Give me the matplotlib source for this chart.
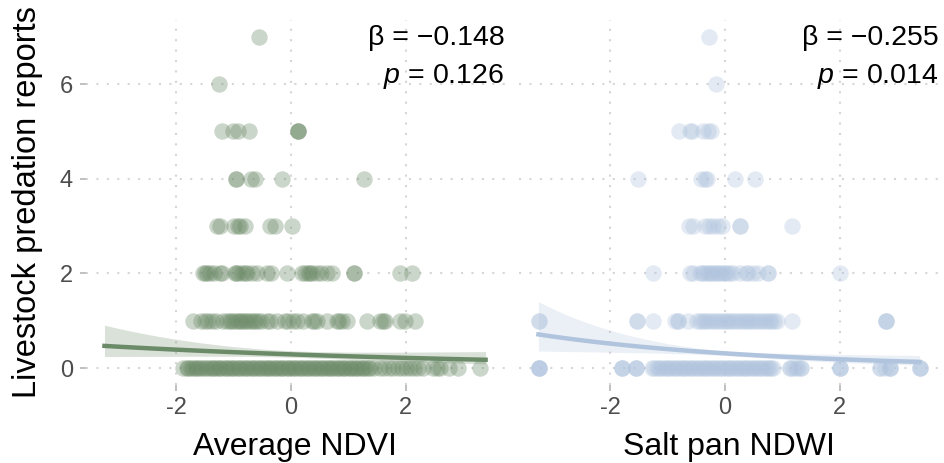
import numpy as np
import matplotlib.pyplot as plt

plt.rcParams['font.family'] = ['Liberation Sans', 'DejaVu Sans']
plt.rcParams['mathtext.fontset'] = 'custom'
plt.rcParams['mathtext.it'] = 'Liberation Sans:italic'
plt.rcParams['mathtext.rm'] = 'Liberation Sans'

# standardised average NDVI of each village, grouped by number of predation reports
ndvi_0 = [-1.88, -1.82, -1.79, -1.75, -1.71, -1.66, -1.63, -1.58, -1.55, -1.50, -1.47, -1.42,
          -1.38, -1.35, -1.30, -1.26, -1.23, -1.18, -1.14, -1.11, -1.06, -1.02, -0.99, -0.94,
          -0.90, -0.87, -0.82, -0.78, -0.75, -0.70, -0.66, -0.63, -0.58, -0.54, -0.51, -0.46,
          -0.42, -0.39, -0.34, -0.30, -0.27, -0.22, -0.18, -0.15, -0.10, -0.06, -0.03, 0.02,
          0.06, 0.09, 0.14, 0.18, 0.21, 0.26, 0.30, 0.33, 0.38, 0.42, 0.45, 0.50, 0.54, 0.57,
          0.62, 0.66, 0.69, 0.74, 0.78, 0.81, 0.86, 0.90, 0.93, 0.98, 1.02, 1.05, 1.10, 1.14,
          1.17, 1.22, 1.26, 1.29, 1.34, 1.38, 1.45, 1.55, 1.62, 1.70, 1.78, 1.86, 1.93, 2.00,
          2.08, 2.15, 2.22, 2.30, 2.47, 2.55, 2.60, 2.75, 2.91, 3.29]
ndvi_1 = [-1.70, -1.56, -1.50, -1.44, -1.38, -1.30, -1.18, -1.12, -1.06, -1.02, -0.98, -0.93,
          -0.89, -0.85, -0.80, -0.77, -0.72, -0.66, -0.62, -0.57, -0.52, -0.42, -0.36, -0.25,
          -0.10, -0.05, 0.04, 0.10, 0.21, 0.36, 0.40, 0.45, 0.62, 0.80, 0.84, 0.88, 0.97, 1.32,
          1.55, 1.61, 1.63, 1.90, 1.99, 2.16]
ndvi_2 = [-1.54, -1.50, -1.47, -1.41, -1.35, -1.24, -1.20, -0.98, -0.95, -0.92, -0.86, -0.80,
          -0.77, -0.68, -0.59, -0.42, -0.34, -0.07, 0.19, 0.24, 0.30, 0.33, 0.36, 0.45, 0.53,
          0.62, 0.71, 1.10, 1.10, 1.90, 2.10]
ndvi_3 = [-1.29, -1.24, -0.99, -0.92, -0.88, -0.80, -0.37, -0.28, 0.01]
ndvi_4 = [-0.96, -0.96, -0.70, -0.63, -0.16, 1.27]
ndvi_5 = [-1.20, -1.01, -0.93, -0.73, 0.12, 0.12, 0.12]
ndvi_6 = [-1.25]
ndvi_7 = [-0.56]

# standardised NDWI of the nearest salt pan
ndwi_0 = [-3.24, -3.24, -3.24, -3.24, -1.80, -1.80, -1.80, -1.55, -1.55, -1.55,
          -1.27, -1.23, -1.19, -1.15, -1.11, -1.07, -1.03, -0.99, -0.95, -0.91, -0.87, -0.83,
          -0.79, -0.75, -0.71, -0.67, -0.63, -0.59, -0.55, -0.51, -0.47, -0.43, -0.39, -0.35,
          -0.31, -0.27, -0.23, -0.19, -0.15, -0.11, -0.07, -0.03, 0.01, 0.05, 0.09, 0.13,
          0.17, 0.21, 0.25, 0.29, 0.33, 0.37, 0.41, 0.45, 0.49, 0.53, 0.57, 0.61, 0.65, 0.69,
          0.73, 0.77, 0.80, 0.84, 1.13, 1.13, 1.18, 1.23, 1.28, 1.33, 1.33, 2.00, 2.00, 2.00,
          2.70, 2.70, 2.78, 2.87, 2.87, 2.87, 3.39, 3.39, 3.39]
ndwi_1 = [-3.24, -3.24, -1.54, -1.54, -1.26, -0.87, -0.81, -0.81, -0.64, -0.49, -0.44, -0.39,
          -0.34, -0.29, -0.24, -0.19, -0.14, -0.09, -0.04, 0.01, 0.06, 0.11, 0.16, 0.21, 0.26,
          0.31, 0.36, 0.41, 0.46, 0.51, 0.56, 0.61, 0.66, 0.71, 0.76, 0.81, 0.86, 0.90, 1.16,
          2.80, 2.80, 2.80]
ndwi_2 = [-1.26, -0.61, -0.55, -0.44, -0.40, -0.36, -0.32, -0.28, -0.24, -0.20, -0.16, -0.12,
          -0.08, -0.04, 0.00, 0.04, 0.08, 0.14, 0.26, 0.37, 0.40, 0.49, 0.58, 0.75, 0.75, 2.00]
ndwi_3 = [-0.62, -0.55, -0.35, -0.27, -0.20, -0.12, -0.06, 0.26, 0.26, 1.16]
ndwi_4 = [-1.51, -0.41, -0.35, -0.31, 0.17, 0.53]
ndwi_5 = [-0.80, -0.61, -0.57, -0.38, -0.30, -0.25]
ndwi_6 = [-0.15]
ndwi_7 = [-0.27]

# Poisson GLM estimates (log link): intercept, slope, standard errors
ndvi_coef = (-1.24, -0.148)
ndvi_se = (0.12, 0.097)
ndvi_p = 0.126
ndwi_coef = (-1.17, -0.255)
ndwi_se = (0.08, 0.104)
ndwi_p = 0.014
fit_range = (-3.25, 3.39)

green = '#6b8a67'
blue = '#b0c4de'


def stack(levels):
    xs, ys = [], []
    for count, vals in enumerate(levels):
        xs += vals
        ys += [count] * len(vals)
    return np.array(xs), np.array(ys)


panels = [
    ('Average NDVI', [ndvi_0, ndvi_1, ndvi_2, ndvi_3, ndvi_4, ndvi_5, ndvi_6, ndvi_7],
     ndvi_coef, ndvi_se, ndvi_p, green),
    ('Salt pan NDWI', [ndwi_0, ndwi_1, ndwi_2, ndwi_3, ndwi_4, ndwi_5, ndwi_6, ndwi_7],
     ndwi_coef, ndwi_se, ndwi_p, blue),
]

fig = plt.figure(figsize=(9.45, 4.63), dpi=100)
lefts = [0.0905, 0.5497]
for i, (title, levels, coef, se, pval, col) in enumerate(panels):
    ax = fig.add_axes([lefts[i], 0.1693, 0.4434, 0.7869])
    x, y = stack(levels)
    ax.scatter(x, y, s=140, color=col, alpha=0.35, linewidths=0, zorder=2)

    # fitted mean with 95% band on the link scale
    xg = np.linspace(fit_range[0], fit_range[1], 100)
    eta = coef[0] + coef[1] * xg
    half = 1.96 * np.sqrt(se[0] ** 2 + (se[1] * xg) ** 2)
    ax.fill_between(xg, np.exp(eta - half), np.exp(eta + half), color=col, alpha=0.25,
                    linewidth=0, zorder=3)
    ax.plot(xg, np.exp(eta), color=col, lw=3.2, zorder=4)

    ax.set_xlim(-3.58, 3.72)
    ax.set_ylim(-0.35, 7.35)
    ax.set_xticks([-2, 0, 2])
    ax.set_xticklabels(['-2', '0', '2'])
    ax.set_yticks([0, 2, 4, 6])
    ax.grid(True, linestyle=(0, (1, 4)), color='#d6d6d6', linewidth=1.5)
    ax.set_axisbelow(True)
    for sp in ax.spines.values():
        sp.set_visible(False)
    ax.tick_params(length=4.5, width=1.2, color='#b5b5b5', labelsize=17,
                   labelcolor='#4d4d4d', pad=4.5)
    ax.set_xlabel(title, fontsize=23, labelpad=9)
    if i == 0:
        ax.set_ylabel('Livestock predation reports', fontsize=23.5, labelpad=12)
    else:
        ax.tick_params(axis='y', left=False, labelleft=False)

    ax.text(1.0, 0.932, '\u03b2 = \u2212%.3f' % abs(coef[1]), transform=ax.transAxes,
            ha='right', va='baseline', fontsize=20.5)
    ax.text(1.0, 0.828, '$p$ = %.3f' % pval, transform=ax.transAxes,
            ha='right', va='baseline', fontsize=20.5)

fig.savefig('out.png', dpi=100)
